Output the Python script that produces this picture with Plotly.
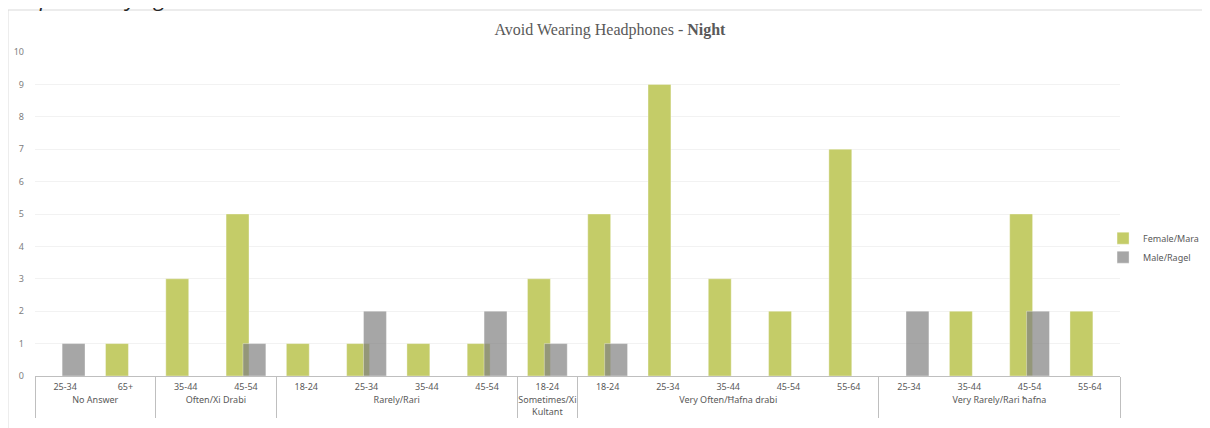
import plotly.graph_objects as go

# response groups and age bands (x axis, two levels)
groups = ["No Answer", "No Answer",
          "Often/Xi Drabi", "Often/Xi Drabi",
          "Rarely/Rari", "Rarely/Rari", "Rarely/Rari", "Rarely/Rari",
          "Sometimes/Xi<br>Kultant",
          "Very Often/Ħafna drabi", "Very Often/Ħafna drabi", "Very Often/Ħafna drabi",
          "Very Often/Ħafna drabi", "Very Often/Ħafna drabi",
          "Very Rarely/Rari ħafna", "Very Rarely/Rari ħafna", "Very Rarely/Rari ħafna",
          "Very Rarely/Rari ħafna"]
ages = ["25-34", "65+",
        "35-44", "45-54",
        "18-24", "25-34", "35-44", "45-54",
        "18-24",
        "18-24", "25-34", "35-44", "45-54", "55-64",
        "25-34", "35-44", "45-54", "55-64"]

female = [None, 1, 3, 5, 1, 1, 1, 1, 3, 5, 9, 3, 2, 7, None, 2, 5, 2]
male = [1, None, None, 1, None, 2, None, 2, 1, 1, None, None, None, None, 2, None, 2, None]

# plotly orders the inner level of a multicategory axis by first appearance
# across all groups, so make each age label unique per group with
# invisible zero-width spaces to keep the original order
group_names = list(dict.fromkeys(groups))
age_keys = [a + "\u200b" * group_names.index(g) for g, a in zip(groups, ages)]

FONT = "Liberation Sans Narrow, Noto Sans, sans-serif"
GREEN = "rgb(196,204,104)"
GREY = "rgba(128,128,128,0.7)"

fig = go.Figure()
fig.add_trace(go.Bar(
    x=[groups, age_keys], y=female, name="Female/Mara",
    marker=dict(color=GREEN, line=dict(color="rgba(255,255,255,0.35)", width=1)),
    width=0.38, offset=-0.33,
))
fig.add_trace(go.Bar(
    x=[groups, age_keys], y=male, name="Male/Ragel",
    marker=dict(color=GREY, line=dict(color="rgba(255,255,255,0.35)", width=1)),
    width=0.38, offset=-0.05,
))

fig.update_layout(
    width=1210, height=428,
    margin=dict(l=27, r=98, t=44, b=60, autoexpand=False),
    paper_bgcolor="white", plot_bgcolor="white",
    barmode="overlay",
    font=dict(family=FONT, size=9, color="#595959"),
    title=dict(
        text="Avoid Wearing Headphones - <b>Night</b>",
        x=0.4975, xref="container", y=0.949, yref="container",
        xanchor="center", yanchor="middle",
        font=dict(family="Liberation Serif, DejaVu Serif, serif", size=16, color="#595959"),
    ),
    legend=dict(
        xref="container", yref="container",
        x=0.905, y=0.44, xanchor="left", yanchor="middle",
        font=dict(family=FONT, size=9, color="#595959"),
        bgcolor="rgba(0,0,0,0)",
    ),
    showlegend=True,
)

fig.update_yaxes(
    range=[0, 10], dtick=1, showgrid=True, gridcolor="#f2f2f2",
    zeroline=False, showline=False, ticks="", automargin=False,
    tickfont=dict(color="#808080", size=9), ticklabelstandoff=10,
)
fig.update_xaxes(
    type="multicategory",
    showline=True, linecolor="#bfbfbf", linewidth=1, automargin=False,
    showdividers=True, dividercolor="#bfbfbf", dividerwidth=1,
    tickfont=dict(size=9, color="#595959"), showgrid=False,
    ticklabelstandoff=2,
)

# outer chart frame
fig.add_shape(type="rect", xref="paper", yref="paper",
              x0=-0.0249, x1=1.1, y0=-0.4, y1=1.1296,
              line=dict(color="#d9d9d9", width=1), fillcolor="rgba(0,0,0,0)", layer="below")

fig.add_annotation(
    text="<i>Responses by Age and Gender</i>", xref="paper", yref="paper",
    x=-0.028, y=1.117, xanchor="left", yanchor="bottom", showarrow=False,
    font=dict(family="Open Sans, sans-serif", size=22, color="#262626"),
)

fig.write_html("out.html")
